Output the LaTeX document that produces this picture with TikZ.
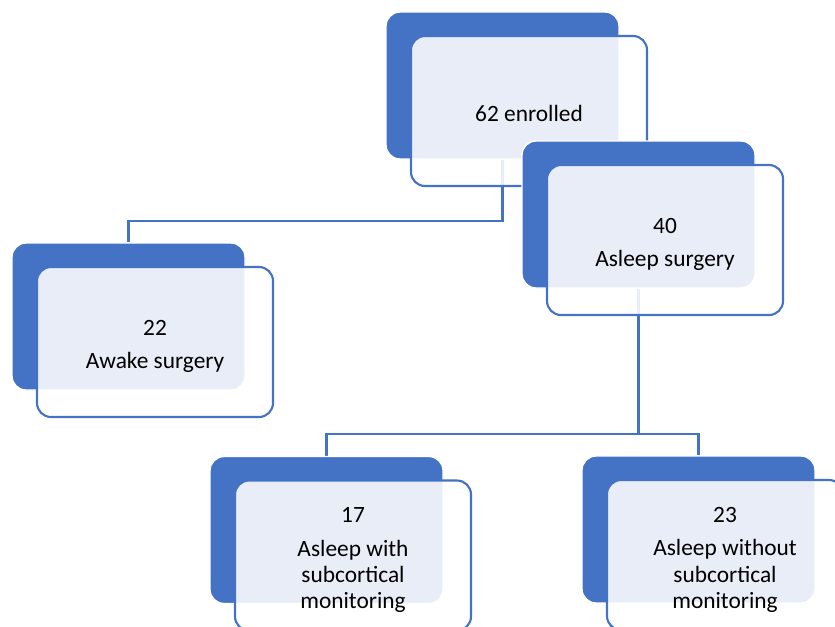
\documentclass[tikz,border=0pt]{standalone}
\usepackage{fontspec}
\setmainfont{Carlito}
\usetikzlibrary{positioning,backgrounds}
\definecolor{boxblue}{RGB}{68,114,196}
\newcommand{\boxgap}{\rule{0pt}{6.9pt}}
\tikzset{
  backbox/.style={rectangle, rounded corners=0.14cm, fill=boxblue, draw=white, line width=0.4pt,
    minimum width=2.33cm, minimum height=1.47cm, inner sep=0pt},
  frontbox/.style={rectangle, rounded corners=0.14cm, fill=white, fill opacity=0.88, text opacity=1,
    draw=boxblue, line width=0.6pt, minimum width=2.36cm, minimum height=1.50cm, inner sep=0pt,
    align=center, font=\fontsize{6.65}{7.4}\selectfont},
  link/.style={draw=boxblue, line width=0.6pt}
}
\begin{document}
\begin{tikzpicture}
\clip (0,0) rectangle (8.35,-6.26);
% 62 enrolled
\node[backbox] (enrolled) at (5.025,-0.855) {};
\node[frontbox] (enrolledtxt) at ([xshift=0.265cm,yshift=-0.255cm]enrolled.center) {\rule{0pt}{6.2pt}62 enrolled};
% 40 asleep
\node[backbox] (asleep) at (6.385,-2.145) {};
\node[frontbox] (asleeptxt) at ([xshift=0.265cm,yshift=-0.255cm]asleep.center) {\boxgap 40\\[2.2pt]Asleep surgery};
% 22 awake
\node[backbox] (awake) at (1.285,-3.165) {};
\node[frontbox] (awaketxt) at ([xshift=0.265cm,yshift=-0.255cm]awake.center) {\boxgap 22\\[2.2pt]Awake surgery};
% 17 with monitoring
\node[backbox] (withmon) at (3.265,-5.30) {};
\node[frontbox] (withmontxt) at ([xshift=0.265cm,yshift=-0.255cm]withmon.center) {\boxgap 17\\[2.2pt]Asleep with\\subcortical\\monitoring};
% 23 without monitoring
\node[backbox] (withoutmon) at (6.985,-5.295) {};
\node[frontbox] (withoutmontxt) at ([xshift=0.265cm,yshift=-0.255cm]withoutmon.center) {\boxgap 23\\[2.2pt]Asleep without\\subcortical\\monitoring};
% connectors behind the boxes
\begin{scope}[on background layer]
\draw[link] (enrolled.south) -- ++(0,-0.61) coordinate (split1) -| (awake.north);
\draw[link] (asleep.south) -- ++(0,-1.45) coordinate (split2) -| (withmon.north);
\draw[link] (split2) -| (withoutmon.north);
\end{scope}
\end{tikzpicture}
\end{document}
